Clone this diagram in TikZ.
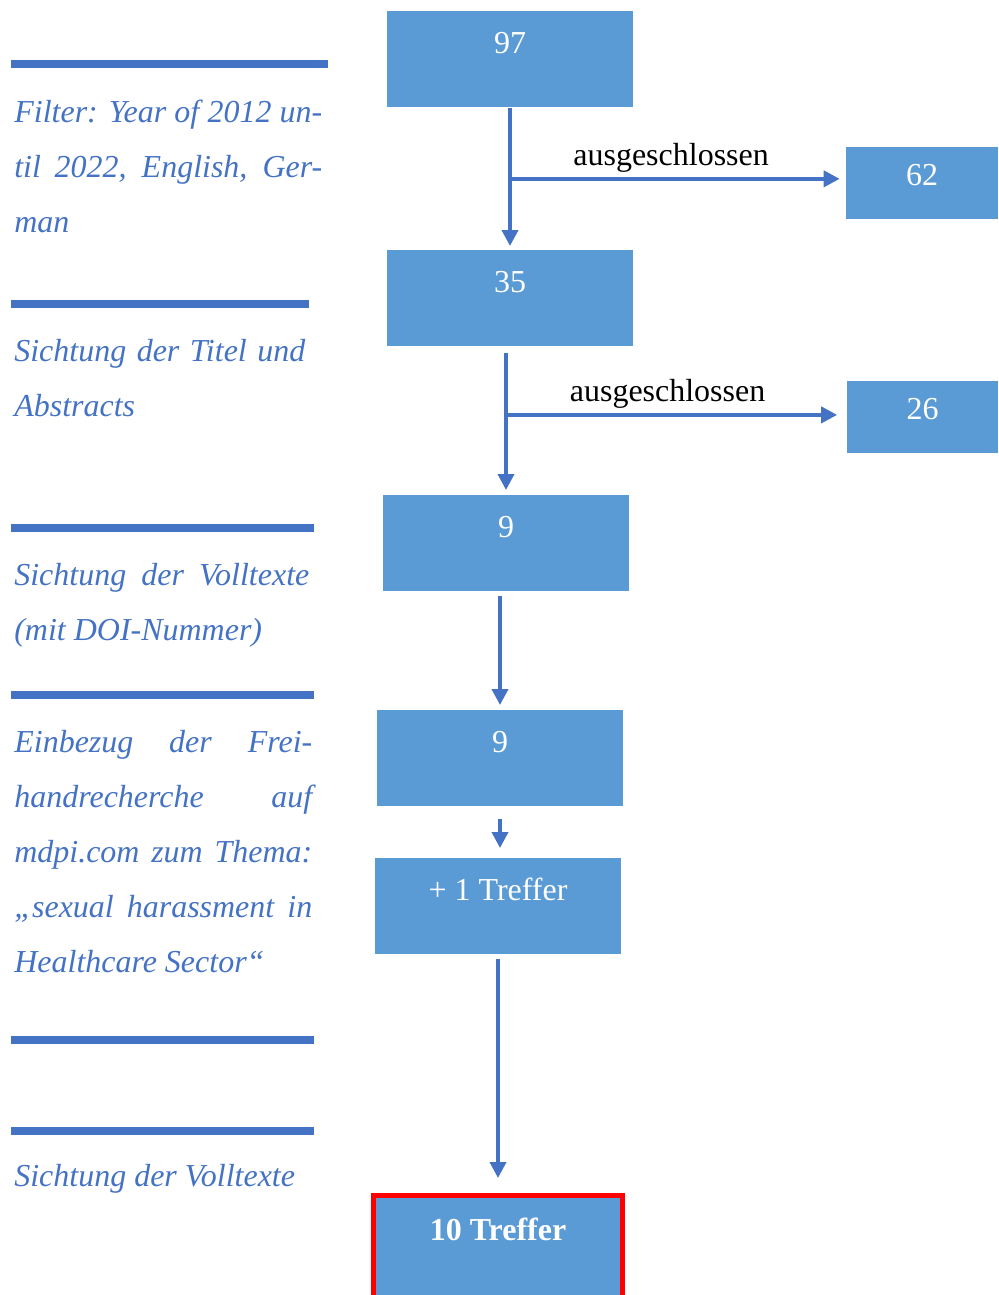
\documentclass[tikz,border=0pt]{standalone}
\usepackage{fontspec}
\setmainfont{Liberation Serif}
\usetikzlibrary{positioning, arrows.meta}
\definecolor{boxblue}{HTML}{5B9BD5}
\definecolor{lineblue}{HTML}{4472C4}
\tolerance=10000
\tikzstyle{every node}=[font=\fontsize{18.2}{31.3}\selectfont]
\tikzstyle{box}=[fill=boxblue,text=white,inner sep=0pt,anchor=north,minimum width=4.92cm,text height=0.84cm,text depth=1.08cm]
\tikzstyle{side}=[box,minimum width=3.04cm,text height=0.76cm,text depth=0.68cm]
\tikzstyle{note}=[anchor=north west,inner sep=0pt,text=lineblue,align=justify,font=\fontsize{18.2}{31.3}\selectfont\itshape]
\tikzstyle{bar}=[draw=lineblue,line width=0.16cm]
\tikzstyle{arr}=[->,draw=lineblue,line width=0.075cm]
\tikzstyle{lbl}=[above,inner sep=2.5pt,text=black]

\begin{document}
\begin{tikzpicture}[x=0.02cm, y=-0.02cm, >={Triangle[length=0.32cm,width=0.32cm]}]
    \clip (0,0) rectangle (998,1295);
    \node[box] (n97) at (510,11) {97};
    \node[side] (n62) at (922,147) {62};
    \node[box] (n35) at (510,250) {35};
    \node[side] (n26) at (922.5,381) {26};
    \node[box] (n9a) at (506,495) {9};
    \node[box] (n9b) at (500,710) {9};
    \node[box] (plus) at (498,858) {+ 1 Treffer};
    \node[box, draw=red, line width=0.1cm, minimum width=5cm, text height=0.89cm, text depth=1.5cm] (hits) at (498,1193) {\textbf{10 Treffer}};
    \draw[arr, shorten >=0.08cm] (n97) -- coordinate[pos=0.5] (x1) (n35);
    \draw[arr, shorten >=0.12cm] (x1) -- node[lbl, pos=0.48] (l1) {ausgeschlossen} (x1 -| n62.west);
    \draw[arr, shorten <=0.12cm, shorten >=0.1cm] (n9a.north |- n35.south) -- coordinate[pos=0.46] (x2) (n9a.north);
    \draw[arr, shorten >=0.18cm] (x2) -- node[lbl, pos=0.475] (l2) {ausgeschlossen} (x2 -| n26.west);
    \draw[arr, shorten <=0.08cm, shorten >=0.1cm] (n9b.north |- n9a.south) -- (n9b.north);
    \draw[arr, shorten <=0.24cm, shorten >=0.2cm] (n9b.south) -- (n9b.south |- plus.north);
    \draw[arr, shorten <=0.08cm, shorten >=0.3cm] (plus) -- (hits);
    \draw[bar] (11,64) -- (328,64);
    \draw[bar] (11,304) -- (309,304);
    \draw[bar] (11,528) -- (314,528);
    \draw[bar] (11,695) -- (314,695);
    \draw[bar] (11,1040) -- (314,1040);
    \draw[bar] (11,1131) -- (314,1131);
    \node[note, text width=6.16cm] (tFilter) at (14,99.5) {Filter: Year of 2012 un-\linebreak til 2022, English, Ger-\linebreak man};
    \node[note, text width=5.82cm] (tTitel) at (14,339) {Sichtung der Titel und\linebreak Abstracts};
    \node[note, text width=5.9cm] (tVoll) at (14,563) {Sichtung der Volltexte\linebreak (mit DOI-Nummer)};
    \node[note, text width=5.96cm] (tFrei) at (14,730) {Einbezug der Frei-\linebreak handrecherche auf\linebreak mdpi.com zum Thema:\linebreak „sexual harassment in\linebreak Healthcare Sector“};
    \node[note, align=left] (tVoll2) at (14,1164) {Sichtung der Volltexte};
\end{tikzpicture}
\end{document}
